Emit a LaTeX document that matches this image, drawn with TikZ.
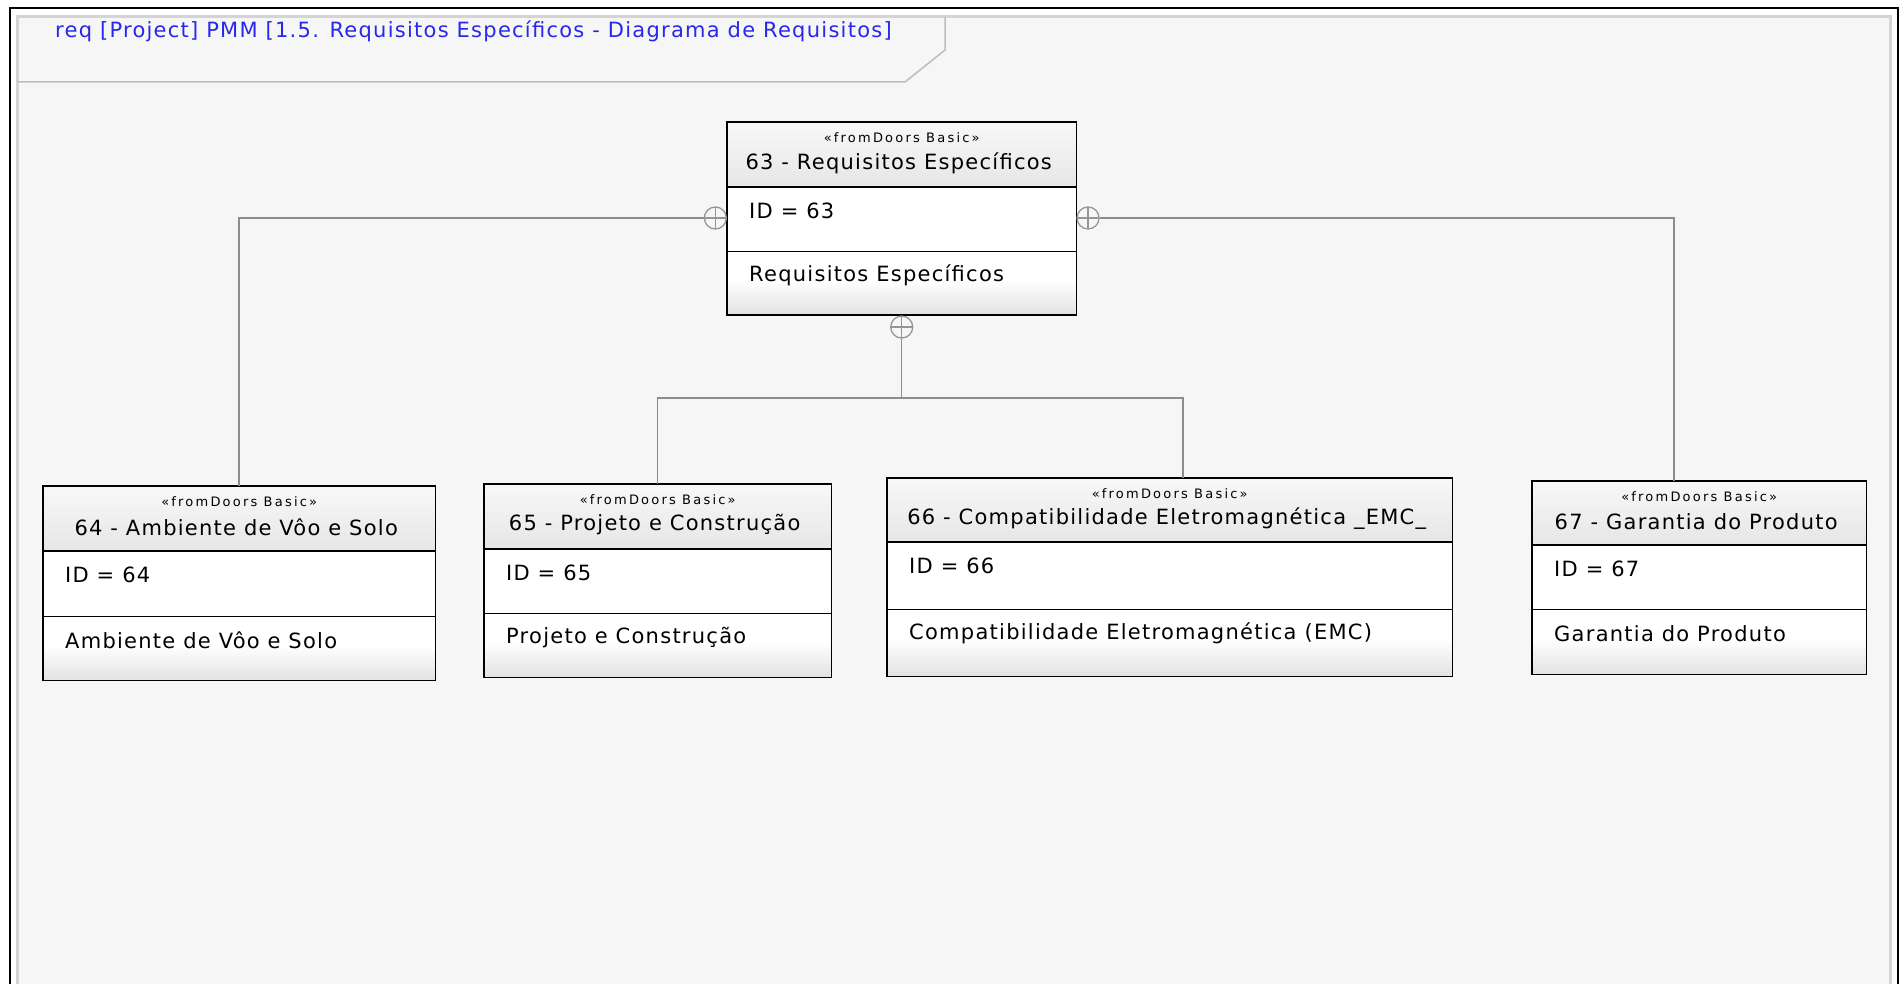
\documentclass[tikz,border=0pt]{standalone}
\usepackage{fontspec}
\setmainfont{DejaVu Sans}
\usepackage{xcolor}
\definecolor{framebg}{RGB}{246,246,246}
\definecolor{framegray}{RGB}{212,212,212}
\definecolor{tabgray}{RGB}{190,190,190}
\definecolor{hdrtop}{RGB}{248,248,248}
\definecolor{hdrbot}{RGB}{230,230,230}
\definecolor{bodybot}{RGB}{226,226,226}
\definecolor{linegray}{RGB}{140,140,140}
\definecolor{symgray}{RGB}{150,150,150}
\definecolor{reqblue}{RGB}{40,40,235}
\usetikzlibrary{positioning}

% one requirement block: number, x, y (top), width, header h, id h, text h, title, text
\newcommand{\reqblock}[9]{%
  \node[reqbox,minimum width=#4pt,minimum height={#5pt+#6pt+#7pt},anchor=north west] (r#1) at (#2,#3) {};
  \shade[top color=hdrtop,bottom color=hdrbot] (r#1.north west) rectangle ([yshift=-#5pt]r#1.north east);
  \shade[top color=white,bottom color=bodybot] ([yshift=#7pt*0.55]r#1.south west) rectangle (r#1.south east);
  \draw[reqsep] ([yshift=-#5pt]r#1.north west) -- ([yshift=-#5pt]r#1.north east);
  \draw[reqsep] ([yshift=#7pt]r#1.south west) -- ([yshift=#7pt]r#1.south east);
  \draw[reqborder] (r#1.north west) rectangle (r#1.south east);
  \node[stereo] (r#1s) at ([yshift=-16pt]r#1.north) {«fromDoors Basic»};
  \node[reqtitle] (r#1t) at ([xshift=-3pt,yshift=-41pt]r#1.north) {#8};
  \node[reqtext] (r#1i) at ([xshift=22pt,yshift={-#5pt-24pt}]r#1.north west) {ID = #1};
  \node[reqtext] (r#1b) at ([xshift=22pt,yshift={#7pt-24pt}]r#1.south west) {#9};
}

\begin{document}
\begin{tikzpicture}[x=1pt,y=-1pt,
  reqbox/.style={fill=white,inner sep=0pt},
  reqborder/.style={draw=black,line width=1.8pt},
  reqsep/.style={black,line width=1.4pt},
  stereo/.style={inner sep=0pt,font=\fontsize{13}{15}\selectfont\addfontfeature{LetterSpace=17}},
  reqtitle/.style={inner sep=0pt,font=\fontsize{21}{25}\selectfont\addfontfeature{LetterSpace=6}},
  reqtext/.style={reqtitle,anchor=west},
  contain/.style={draw=linegray,line width=1.5pt},
  kplus/.style={circle,draw=symgray,line width=1.3pt,fill=framebg,minimum size=22pt,inner sep=0pt,
    path picture={\draw[symgray,line width=1.3pt]
      (path picture bounding box.north) -- (path picture bounding box.south)
      (path picture bounding box.west) -- (path picture bounding box.east);}}
]
  \useasboundingbox (0,0) rectangle (1899,984);
  \fill[white] (0,0) rectangle (1899,984);
  % diagram frame
  \draw[black,line width=2pt] (10,8) rectangle (1898,1010);
  \draw[framegray,line width=3pt,fill=framebg] (17,17) rectangle (1890,1010);
  \draw[tabgray,line width=1.5pt] (17,82) -- (905,82) -- (945,50) -- (945,17);
  \node[anchor=west,inner sep=0pt,text=reqblue,font=\fontsize{21}{25}\selectfont\addfontfeature{LetterSpace=6}]
    (frametitle) at (55,31) {req [Project] PMM [1.5. Requisitos Específicos - Diagrama de Requisitos]};

  % Blocks
  \reqblock{63}{727}{122}{349}{65}{64}{64}{63 - Requisitos Específicos}{Requisitos Específicos}
  \reqblock{64}{43}{486}{392}{65}{65}{64}{64 - Ambiente de Vôo e Solo}{Ambiente de Vôo e Solo}
  \reqblock{65}{484}{484}{347}{65}{64}{64}{65 - Projeto e Construção}{Projeto e Construção}
  \reqblock{66}{887}{478}{565}{64}{67}{67}{66 - Compatibilidade Eletromagnética \_EMC\_}{Compatibilidade Eletromagnética (EMC)}
  \reqblock{67}{1532}{481}{334}{64}{64}{65}{67 - Garantia do Produto}{Garantia do Produto}

  % Containment symbols
  \node[kplus,anchor=east] (k63l) at ([yshift=-96pt]r63.north west) {};
  \node[kplus,anchor=west] (k63r) at ([yshift=-96pt]r63.north east) {};
  \node[kplus,anchor=north] (k63b) at (r63.south) {};
  \coordinate (j63) at (k63b |- 0,398);

  % Connectors
  \draw[contain] (k63l) -| (r64.north);
  \draw[contain] (k63r) -| ([xshift=142pt]r67.north west);
  \draw[contain] (k63b) -- (j63) -| (r65.north);
  \draw[contain] (j63) -| ([xshift=296pt]r66.north west);
\end{tikzpicture}
\end{document}
